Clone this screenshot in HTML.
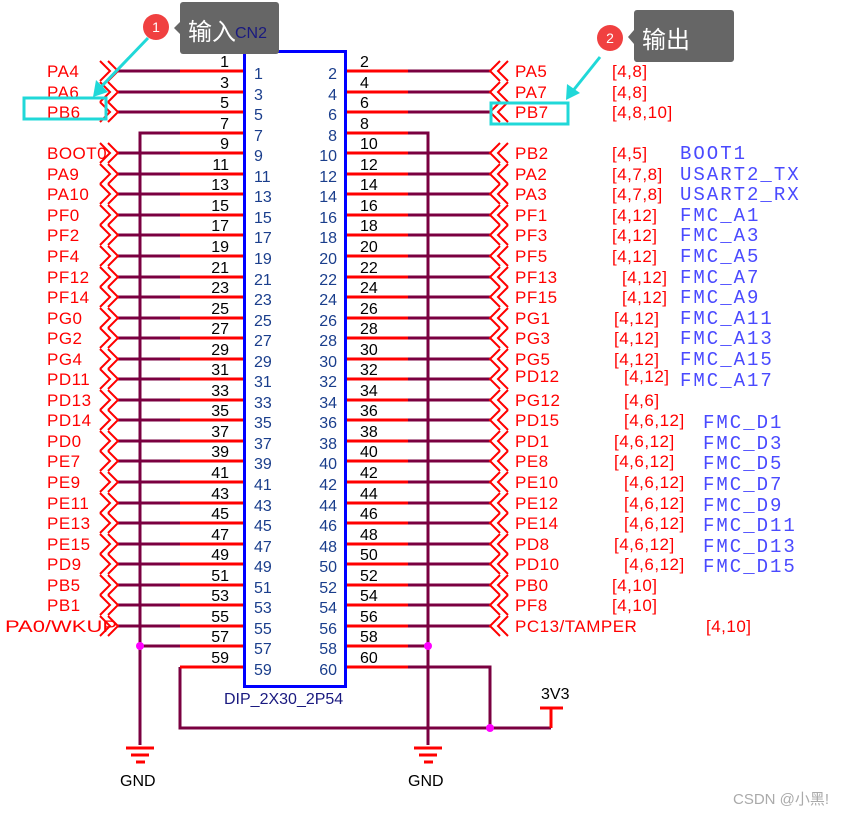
<!DOCTYPE html>
<html><head><meta charset="utf-8"><style>
body{margin:0;background:#fff}
svg{display:block;font-family:"Liberation Sans","Noto Sans CJK SC",sans-serif}
.o{font-size:16px;fill:#000}
.i{font-size:16px;fill:#1a3e8c}
.l{font-size:17px;fill:#f00;letter-spacing:0.5px}
.b{font-family:"Liberation Mono",monospace;font-size:19px;fill:#4a4aff;letter-spacing:2px}
</style></head><body>
<svg width="862" height="815" viewBox="0 0 862 815">
<defs>
<path id="cl" d="M100,-10 L110,0 L100,10 M108,-10 L118,0 L108,10" fill="none" stroke="#f00" stroke-width="2"/>
<path id="cr" d="M500,-10 L490,0 L500,10 M508,-10 L498,0 L508,10" fill="none" stroke="#f00" stroke-width="2"/>
</defs>
<g stroke="#7a0040" stroke-width="3" fill="none">
<path d="M118,71H180M118,92H180M118,112H180M118,153H180M118,174H180M118,194H180M118,215H180M118,235H180M118,256H180M118,277H180M118,297H180M118,318H180M118,338H180M118,359H180M118,379H180M118,400H180M118,420H180M118,441H180M118,461H180M118,482H180M118,503H180M118,523H180M118,544H180M118,564H180M118,585H180M118,605H180M118,626H180"/>
<path d="M408,71H490M408,92H490M408,112H490M408,153H490M408,174H490M408,194H490M408,215H490M408,235H490M408,256H490M408,277H490M408,297H490M408,318H490M408,338H490M408,359H490M408,379H490M408,400H490M408,420H490M408,441H490M408,461H490M408,482H490M408,503H490M408,523H490M408,544H490M408,564H490M408,585H490M408,605H490M408,626H490"/>
<path d="M180,133H140V745M140,646H180M408,133H428V745M408,646H428"/>
<path d="M180,667V728H551M408,667H490V728"/>
</g>
<g stroke="#f00" stroke-width="3">
<path d="M180,71H243M180,92H243M180,112H243M180,133H243M180,153H243M180,174H243M180,194H243M180,215H243M180,235H243M180,256H243M180,277H243M180,297H243M180,318H243M180,338H243M180,359H243M180,379H243M180,400H243M180,420H243M180,441H243M180,461H243M180,482H243M180,503H243M180,523H243M180,544H243M180,564H243M180,585H243M180,605H243M180,626H243M180,646H243M180,667H243"/>
<path d="M346,71H408M346,92H408M346,112H408M346,133H408M346,153H408M346,174H408M346,194H408M346,215H408M346,235H408M346,256H408M346,277H408M346,297H408M346,318H408M346,338H408M346,359H408M346,379H408M346,400H408M346,420H408M346,441H408M346,461H408M346,482H408M346,503H408M346,523H408M346,544H408M346,564H408M346,585H408M346,605H408M346,626H408M346,646H408M346,667H408"/>
<path d="M551,728V708M540,708H563"/>
<path d="M126,748H154M131,755H149M136,762H145M414,748H442M419,755H437M424,762H433"/>
</g>
<g fill="#f0f">
<circle cx="140" cy="646" r="4"/><circle cx="428" cy="646" r="4"/><circle cx="490" cy="728" r="4"/>
</g>
<rect x="244.5" y="51.5" width="101" height="635" fill="none" stroke="#0000ff" stroke-width="3"/>
<g>
<use href="#cl" y="71"/><use href="#cl" y="92"/><use href="#cl" y="112"/><use href="#cl" y="153"/><use href="#cl" y="174"/><use href="#cl" y="194"/><use href="#cl" y="215"/><use href="#cl" y="235"/><use href="#cl" y="256"/><use href="#cl" y="277"/><use href="#cl" y="297"/><use href="#cl" y="318"/><use href="#cl" y="338"/><use href="#cl" y="359"/><use href="#cl" y="379"/><use href="#cl" y="400"/><use href="#cl" y="420"/><use href="#cl" y="441"/><use href="#cl" y="461"/><use href="#cl" y="482"/><use href="#cl" y="503"/><use href="#cl" y="523"/><use href="#cl" y="544"/><use href="#cl" y="564"/><use href="#cl" y="585"/><use href="#cl" y="605"/><use href="#cl" y="626"/>
<use href="#cr" y="71"/><use href="#cr" y="92"/><use href="#cr" y="112"/><use href="#cr" y="153"/><use href="#cr" y="174"/><use href="#cr" y="194"/><use href="#cr" y="215"/><use href="#cr" y="235"/><use href="#cr" y="256"/><use href="#cr" y="277"/><use href="#cr" y="297"/><use href="#cr" y="318"/><use href="#cr" y="338"/><use href="#cr" y="359"/><use href="#cr" y="379"/><use href="#cr" y="400"/><use href="#cr" y="420"/><use href="#cr" y="441"/><use href="#cr" y="461"/><use href="#cr" y="482"/><use href="#cr" y="503"/><use href="#cr" y="523"/><use href="#cr" y="544"/><use href="#cr" y="564"/><use href="#cr" y="585"/><use href="#cr" y="605"/><use href="#cr" y="626"/>
</g>
<g class="o" text-anchor="end">
<text x="229" y="67">1</text><text x="229" y="88">3</text><text x="229" y="108">5</text><text x="229" y="129">7</text><text x="229" y="149">9</text><text x="229" y="170">11</text><text x="229" y="190">13</text><text x="229" y="211">15</text><text x="229" y="231">17</text><text x="229" y="252">19</text><text x="229" y="273">21</text><text x="229" y="293">23</text><text x="229" y="314">25</text><text x="229" y="334">27</text><text x="229" y="355">29</text><text x="229" y="375">31</text><text x="229" y="396">33</text><text x="229" y="416">35</text><text x="229" y="437">37</text><text x="229" y="457">39</text><text x="229" y="478">41</text><text x="229" y="499">43</text><text x="229" y="519">45</text><text x="229" y="540">47</text><text x="229" y="560">49</text><text x="229" y="581">51</text><text x="229" y="601">53</text><text x="229" y="622">55</text><text x="229" y="642">57</text><text x="229" y="663">59</text>
</g>
<g class="i">
<text x="254" y="79">1</text><text x="254" y="100">3</text><text x="254" y="120">5</text><text x="254" y="141">7</text><text x="254" y="161">9</text><text x="254" y="182">11</text><text x="254" y="202">13</text><text x="254" y="223">15</text><text x="254" y="243">17</text><text x="254" y="264">19</text><text x="254" y="285">21</text><text x="254" y="305">23</text><text x="254" y="326">25</text><text x="254" y="346">27</text><text x="254" y="367">29</text><text x="254" y="387">31</text><text x="254" y="408">33</text><text x="254" y="428">35</text><text x="254" y="449">37</text><text x="254" y="469">39</text><text x="254" y="490">41</text><text x="254" y="511">43</text><text x="254" y="531">45</text><text x="254" y="552">47</text><text x="254" y="572">49</text><text x="254" y="593">51</text><text x="254" y="613">53</text><text x="254" y="634">55</text><text x="254" y="654">57</text><text x="254" y="675">59</text>
</g>
<g class="i" text-anchor="end">
<text x="337" y="79">2</text><text x="337" y="100">4</text><text x="337" y="120">6</text><text x="337" y="141">8</text><text x="337" y="161">10</text><text x="337" y="182">12</text><text x="337" y="202">14</text><text x="337" y="223">16</text><text x="337" y="243">18</text><text x="337" y="264">20</text><text x="337" y="285">22</text><text x="337" y="305">24</text><text x="337" y="326">26</text><text x="337" y="346">28</text><text x="337" y="367">30</text><text x="337" y="387">32</text><text x="337" y="408">34</text><text x="337" y="428">36</text><text x="337" y="449">38</text><text x="337" y="469">40</text><text x="337" y="490">42</text><text x="337" y="511">44</text><text x="337" y="531">46</text><text x="337" y="552">48</text><text x="337" y="572">50</text><text x="337" y="593">52</text><text x="337" y="613">54</text><text x="337" y="634">56</text><text x="337" y="654">58</text><text x="337" y="675">60</text>
</g>
<g class="o">
<text x="360" y="67">2</text><text x="360" y="88">4</text><text x="360" y="108">6</text><text x="360" y="129">8</text><text x="360" y="149">10</text><text x="360" y="170">12</text><text x="360" y="190">14</text><text x="360" y="211">16</text><text x="360" y="231">18</text><text x="360" y="252">20</text><text x="360" y="273">22</text><text x="360" y="293">24</text><text x="360" y="314">26</text><text x="360" y="334">28</text><text x="360" y="355">30</text><text x="360" y="375">32</text><text x="360" y="396">34</text><text x="360" y="416">36</text><text x="360" y="437">38</text><text x="360" y="457">40</text><text x="360" y="478">42</text><text x="360" y="499">44</text><text x="360" y="519">46</text><text x="360" y="540">48</text><text x="360" y="560">50</text><text x="360" y="581">52</text><text x="360" y="601">54</text><text x="360" y="622">56</text><text x="360" y="642">58</text><text x="360" y="663">60</text>
</g>
<g class="l">
<text x="47" y="77">PA4</text><text x="47" y="98">PA6</text><text x="47" y="118">PB6</text><text x="47" y="159">BOOT0</text><text x="47" y="180">PA9</text><text x="47" y="200">PA10</text><text x="47" y="221">PF0</text><text x="47" y="241">PF2</text><text x="47" y="262">PF4</text><text x="47" y="283">PF12</text><text x="47" y="303">PF14</text><text x="47" y="324">PG0</text><text x="47" y="344">PG2</text><text x="47" y="365">PG4</text><text x="47" y="385">PD11</text><text x="47" y="406">PD13</text><text x="47" y="426">PD14</text><text x="47" y="447">PD0</text><text x="47" y="467">PE7</text><text x="47" y="488">PE9</text><text x="47" y="509">PE11</text><text x="47" y="529">PE13</text><text x="47" y="550">PE15</text><text x="47" y="570">PD9</text><text x="47" y="591">PB5</text><text x="47" y="611">PB1</text><text x="5" y="632" textLength="112" lengthAdjust="spacingAndGlyphs" style="letter-spacing:0">PA0/WKUP</text>
</g>
<g class="l">
<text x="515" y="77">PA5</text><text x="515" y="98">PA7</text><text x="515" y="118">PB7</text><text x="515" y="159">PB2</text><text x="515" y="180">PA2</text><text x="515" y="200">PA3</text><text x="515" y="221">PF1</text><text x="515" y="241">PF3</text><text x="515" y="262">PF5</text><text x="515" y="283">PF13</text><text x="515" y="303">PF15</text><text x="515" y="324">PG1</text><text x="515" y="344">PG3</text><text x="515" y="365">PG5</text><text x="515" y="382">PD12</text><text x="515" y="406">PG12</text><text x="515" y="426">PD15</text><text x="515" y="447">PD1</text><text x="515" y="467">PE8</text><text x="515" y="488">PE10</text><text x="515" y="509">PE12</text><text x="515" y="529">PE14</text><text x="515" y="550">PD8</text><text x="515" y="570">PD10</text><text x="515" y="591">PB0</text><text x="515" y="611">PF8</text><text x="515" y="632">PC13/TAMPER</text>
<text x="612" y="77">[4,8]</text><text x="612" y="98">[4,8]</text><text x="612" y="118">[4,8,10]</text><text x="612" y="159">[4,5]</text><text x="612" y="180">[4,7,8]</text><text x="612" y="200">[4,7,8]</text><text x="612" y="221">[4,12]</text><text x="612" y="241">[4,12]</text><text x="612" y="262">[4,12]</text><text x="622" y="283">[4,12]</text><text x="622" y="303">[4,12]</text><text x="614" y="324">[4,12]</text><text x="614" y="344">[4,12]</text><text x="614" y="365">[4,12]</text><text x="624" y="382">[4,12]</text><text x="624" y="406">[4,6]</text><text x="624" y="426">[4,6,12]</text><text x="614" y="467">[4,6,12]</text><text x="614" y="447">[4,6,12]</text><text x="624" y="488">[4,6,12]</text><text x="624" y="509">[4,6,12]</text><text x="624" y="529">[4,6,12]</text><text x="614" y="550">[4,6,12]</text><text x="624" y="570">[4,6,12]</text><text x="612" y="591">[4,10]</text><text x="612" y="611">[4,10]</text><text x="706" y="632">[4,10]</text>
</g>
<g class="b">
<text x="680" y="159">BOOT1</text><text x="680" y="180">USART2_TX</text><text x="680" y="200">USART2_RX</text><text x="680" y="221">FMC_A1</text><text x="680" y="241">FMC_A3</text><text x="680" y="262">FMC_A5</text><text x="680" y="283">FMC_A7</text><text x="680" y="303">FMC_A9</text><text x="680" y="324">FMC_A11</text><text x="680" y="344">FMC_A13</text><text x="680" y="365">FMC_A15</text><text x="680" y="386">FMC_A17</text>
<text x="703" y="428">FMC_D1</text><text x="703" y="449">FMC_D3</text><text x="703" y="469">FMC_D5</text><text x="703" y="490">FMC_D7</text><text x="703" y="511">FMC_D9</text><text x="703" y="531">FMC_D11</text><text x="703" y="552">FMC_D13</text><text x="703" y="572">FMC_D15</text>
</g>
<text x="224" y="704" font-size="16" fill="#1a1a80">DIP_2X30_2P54</text>
<text x="541" y="699" font-size="16" fill="#000">3V3</text>
<text x="120" y="786" font-size="16" fill="#000">GND</text>
<text x="408" y="786" font-size="16" fill="#000">GND</text>
<text x="733" y="804" font-size="15" fill="#aaa">CSDN @小黑!</text>
<rect x="180" y="2" width="99" height="52" rx="3" fill="#666"/>
<path d="M180,22 L174,28 L180,34Z" fill="#666"/>
<text x="188" y="40" font-size="24" fill="#fff">输入</text>
<text x="235" y="38" font-size="16" fill="#1a1a80">CN2</text>
<rect x="634" y="10" width="100" height="52" rx="3" fill="#666"/>
<path d="M634,30 L628,37 L634,44Z" fill="#666"/>
<text x="642" y="48" font-size="24" fill="#fff">输出</text>
<circle cx="156" cy="27" r="13" fill="#f04040"/>
<text x="156" y="32" font-size="14" fill="#fff" text-anchor="middle">1</text>
<circle cx="610" cy="38" r="13" fill="#f04040"/>
<text x="610" y="43" font-size="14" fill="#fff" text-anchor="middle">2</text>
<g stroke="#20d8d8" fill="#20d8d8">
<line x1="148" y1="38" x2="100" y2="88" stroke-width="3"/>
<path d="M93,97 L96,80 L108,92Z" stroke="none"/>
<line x1="600" y1="57" x2="572" y2="92" stroke-width="3"/>
<path d="M566,100 L567,84 L580,93Z" stroke="none"/>
<rect x="24" y="98" width="82" height="21" fill="none" stroke-width="3"/>
<rect x="491" y="103" width="77" height="21" fill="none" stroke-width="3"/>
</g>
</svg>
</body></html>
